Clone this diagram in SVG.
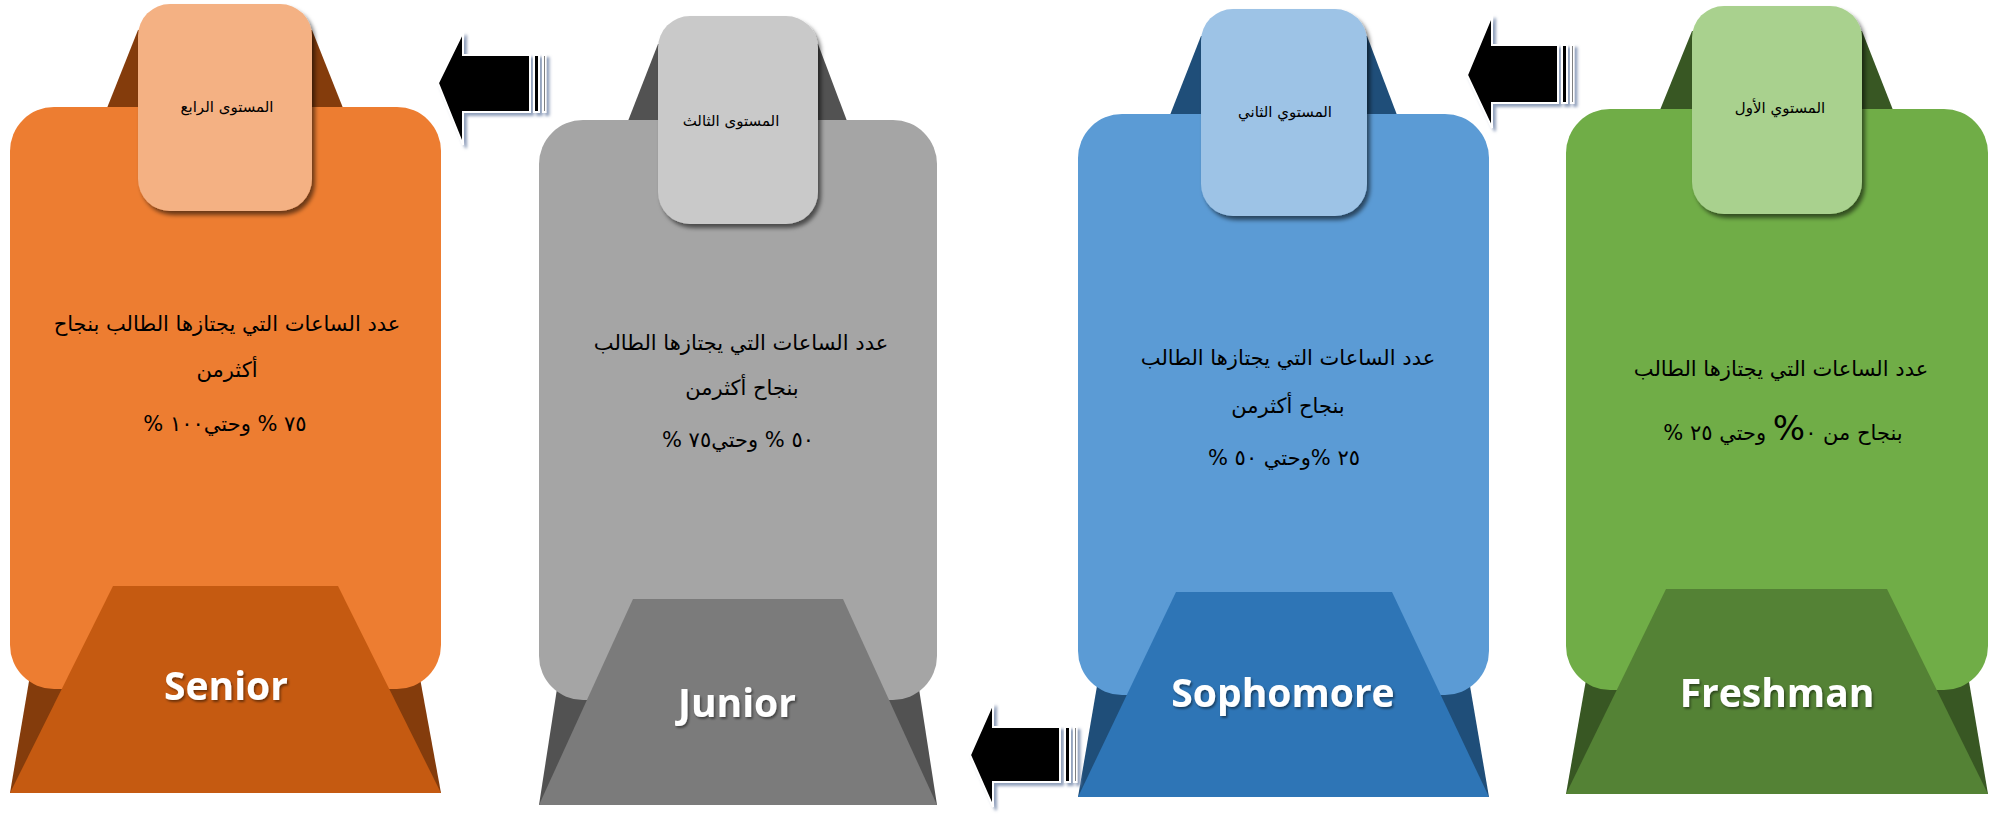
<svg xmlns="http://www.w3.org/2000/svg" width="1993" height="817" viewBox="0 0 1993 817">
<defs>
<filter id="tabShadow" x="-20%" y="-20%" width="140%" height="140%">
<feDropShadow dx="3" dy="4" stdDeviation="2" flood-color="#000" flood-opacity="0.55"/>
</filter>
<filter id="lblShadow" x="-20%" y="-40%" width="140%" height="180%">
<feDropShadow dx="1.5" dy="2" stdDeviation="1.2" flood-color="#000" flood-opacity="0.45"/>
</filter>
<filter id="arrShadow" x="-20%" y="-20%" width="140%" height="140%">
<feDropShadow dx="3" dy="3" stdDeviation="1.5" flood-color="#8494B4" flood-opacity="0.9"/>
</filter>
</defs>
<style>
.ar{font-family:"DejaVu Sans","Noto Sans",sans-serif;fill:#000;text-anchor:middle;direction:rtl;unicode-bidi:embed}
.body{font-size:21px}
.tabt{font-size:15px}
.lbl{font-family:"Open Sans","Liberation Sans",sans-serif;font-weight:bold;font-size:39px;fill:#fff;text-anchor:middle;filter:url(#lblShadow)}
.tab{filter:url(#tabShadow)}
.arrow{fill:#000;stroke:#fff;stroke-width:2;filter:url(#arrShadow)}
</style>
<rect width="1993" height="817" fill="#fff"/>

<g id="node-senior">
<polygon points="107,108 138,30 312,30 343,108" fill="#843C0C"/>
<polygon points="36,640 413,640 441,793 10,793" fill="#843C0C"/>
<rect x="10" y="107" width="431" height="582" rx="44" ry="44" fill="#ED7D31"/>
<polygon points="113,586 338,586 441,793 10,793" fill="#C55A11"/>
<rect class="tab" x="138" y="4" width="174" height="207" rx="32" ry="32" fill="#F4B183"/>
<text class="ar tabt" x="227" y="112">المستوى الرابع</text>
<text class="ar body" x="227" y="331">عدد الساعات التي يجتازها الطالب بنجاح</text>
<text class="ar body" x="227" y="377">أكثرمن</text>
<text class="ar body" x="225" y="431">٧٥ % وحتي١٠٠  %</text>
<text class="lbl" x="226" y="700">Senior</text>
</g>

<g id="node-junior">
<polygon points="628,121 658,44 818,44 847,121" fill="#525252"/>
<polygon points="563,650 913,650 937,805 539,805" fill="#525252"/>
<rect x="539" y="120" width="398" height="580" rx="44" ry="44" fill="#A5A5A5"/>
<polygon points="633,599 843,599 937,805 539,805" fill="#7B7B7B"/>
<rect class="tab" x="658" y="16" width="160" height="208" rx="32" ry="32" fill="#C9C9C9"/>
<text class="ar tabt" x="731" y="126">المستوى الثالث</text>
<text class="ar body" x="741" y="350">عدد الساعات التي يجتازها الطالب</text>
<text class="ar body" x="742" y="395">بنجاح  أكثرمن</text>
<text class="ar body" x="738" y="447">٥٠ % وحتي٧٥ %</text>
<text class="lbl" x="737" y="717">Junior</text>
</g>

<g id="node-sophomore">
<polygon points="1170,115 1201,36 1367,36 1397,115" fill="#1F4E79"/>
<polygon points="1104,645 1463,645 1489,797 1078,797" fill="#1F4E79"/>
<rect x="1078" y="114" width="411" height="581" rx="44" ry="44" fill="#5B9BD5"/>
<polygon points="1176,592 1392,592 1489,797 1078,797" fill="#2E75B6"/>
<rect class="tab" x="1201" y="9" width="166" height="207" rx="32" ry="32" fill="#9DC3E6"/>
<text class="ar tabt" x="1285" y="117">المستوي الثاني</text>
<text class="ar body" x="1288" y="365">عدد الساعات التي يجتازها الطالب</text>
<text class="ar body" x="1288" y="413">بنجاح  أكثرمن</text>
<text class="ar body" x="1284" y="465">٢٥ %وحتي ٥٠ %</text>
<text class="lbl" x="1283" y="707">Sophomore</text>
</g>

<g id="node-freshman">
<polygon points="1660,110 1692,31 1862,31 1893,110" fill="#385723"/>
<polygon points="1593,640 1962,640 1988,794 1566,794" fill="#385723"/>
<rect x="1566" y="109" width="422" height="581" rx="44" ry="44" fill="#70AD47"/>
<polygon points="1666,589 1887,589 1988,794 1566,794" fill="#548235"/>
<rect class="tab" x="1692" y="6" width="170" height="208" rx="32" ry="32" fill="#A9D18E"/>
<text class="ar tabt" x="1780" y="113">المستوي الأول</text>
<text class="ar body" x="1781" y="376">عدد الساعات التي يجتازها الطالب</text>
<text class="ar body" x="1783" y="440">بنجاح من  ٠<tspan font-size="34px">%</tspan> وحتي ٢٥ %</text>
<text class="lbl" x="1777" y="707">Freshman</text>
</g>

<g id="connectors">
<g class="arrow">
<path d="M438,83 L463,32 L463,55 L530,55 L530,112 L463,112 L463,145 Z"/>
<rect x="534" y="55" width="5" height="57"/>
<rect x="543" y="55" width="2.5" height="57"/>
</g>
<g class="arrow">
<path d="M970,755 L993,703 L993,727 L1060,727 L1060,782 L993,782 L993,807 Z"/>
<rect x="1065" y="727" width="5" height="55"/>
<rect x="1074" y="727" width="2.5" height="55"/>
</g>
<g class="arrow">
<path d="M1467,75 L1492,15 L1492,45 L1558,45 L1558,103 L1492,103 L1492,128 Z"/>
<rect x="1562" y="45" width="5" height="58"/>
<rect x="1571" y="45" width="2.5" height="58"/>
</g>
</g>
</svg>
